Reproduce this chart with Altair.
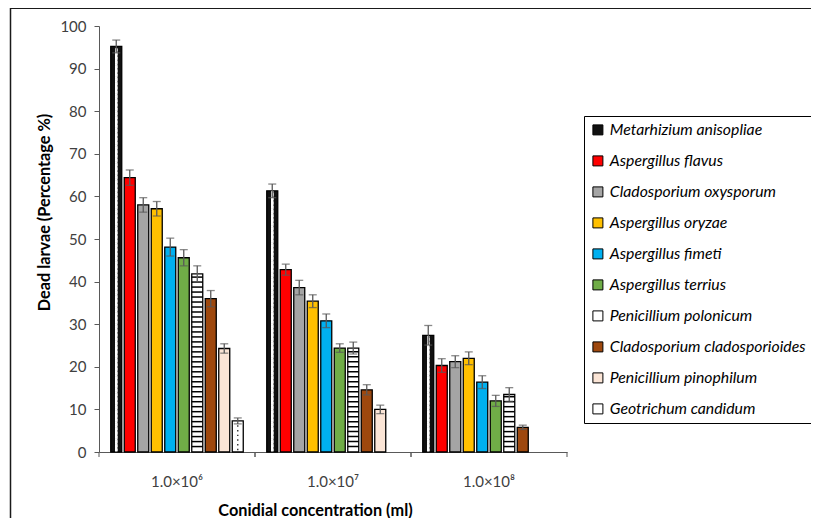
import altair as alt
import pandas as pd

concentrations = ["1.0×10⁶", "1.0×10⁷", "1.0×10⁸"]
species = [
    "Metarhizium anisopliae", "Aspergillus flavus", "Cladosporium oxysporum",
    "Aspergillus oryzae", "Aspergillus fimeti", "Aspergillus terrius",
    "Penicillium polonicum", "Cladosporium cladosporioides",
    "Penicillium pinophilum", "Geotrichum candidum",
]
colors = ["#111111", "#FF0000", "#A5A5A5", "#FFC000", "#00B0F0", "#70AD47",
          "#FFFFFF", "#9E480E", "#FBE5D6", "#FFFFFF"]

mortality_1e6 = [95.2, 64.4, 58.0, 57.1, 48.1, 45.6, 41.8, 36.0, 24.3, 7.3]
mortality_1e7 = [61.3, 42.8, 38.6, 35.4, 30.8, 24.4, 24.4, 14.6, 10.0, None]
mortality_1e8 = [27.4, 20.3, 21.2, 22.0, 16.4, 12.0, 13.5, 5.8, None, None]
sd_1e6 = [1.5, 1.8, 1.7, 1.7, 2.1, 1.9, 1.9, 1.9, 1.1, 0.7]
sd_1e7 = [1.6, 1.3, 1.7, 1.5, 1.6, 1.0, 1.4, 1.2, 1.0, None]
sd_1e8 = [2.3, 1.6, 1.4, 1.5, 1.5, 1.3, 1.6, 0.5, None, None]

rows = []
for conc, vals, sds in zip(concentrations,
                           [mortality_1e6, mortality_1e7, mortality_1e8],
                           [sd_1e6, sd_1e7, sd_1e8]):
    for sp, v, s in zip(species, vals, sds):
        if v is not None:
            rows.append({"conc": conc, "species": sp, "value": v,
                         "lo": v - s, "hi": v + s})
df = pd.DataFrame(rows)

FONT = "Lato"

x_enc = alt.X("conc:N", sort=concentrations,
              scale=alt.Scale(domain=concentrations, paddingInner=0, paddingOuter=0),
              axis=alt.Axis(title="Conidial concentration (ml)", labelAngle=0,
                            ticks=False, labelPadding=22, labelFontSize=15,
                            labelFont=FONT, labelColor="#404040",
                            domainColor="#595959", domainWidth=1,
                            titleFont=FONT, titleFontSize=16.3, titleFontWeight="bold",
                            titleColor="black", titleX=216, titleY=50,
                            titleBaseline="top"))
xo_enc = alt.XOffset("species:N", sort=species,
                     scale=alt.Scale(domain=species, paddingInner=0.185, paddingOuter=0.87))
y_scale = alt.Scale(domain=[0, 100], nice=False)
X_ = alt.X("conc:N", sort=concentrations)
XO_ = alt.XOffset("species:N", sort=species)

base = alt.Chart(df)

bars = base.mark_bar(stroke="black", strokeWidth=1.3).encode(
    x=x_enc, xOffset=xo_enc,
    y=alt.Y("value:Q", scale=y_scale,
            axis=alt.Axis(title="Dead larvae (Percentage %)", values=list(range(0, 101, 10)),
                          grid=False, tickSize=5, tickColor="#595959",
                          domainColor="#595959", labelPadding=8, labelFontSize=15,
                          labelFont=FONT, labelColor="#404040",
                          titleFont=FONT, titleFontSize=16.3, titleFontWeight="bold",
                          titleColor="black", titleX=-55, titleY=186,
                          titleBaseline="middle", titleAngle=-90)),
    color=alt.Color("species:N", scale=alt.Scale(domain=species, range=colors),
                    legend=alt.Legend(title=None, orient="none", legendX=485, legendY=90,
                                      strokeColor="black", padding=6, rowPadding=14.0,
                                      labelFont=FONT, labelFontSize=15.8,
                                      labelFontStyle="italic", labelColor="black",
                                      labelLimit=400, labelOffset=4,
                                      symbolType="square", symbolSize=100,
                                      symbolStrokeColor="black", symbolStrokeWidth=1,
                                      fillColor="white")),
)

# hatch patterns drawn from the bar values
stripes = base.transform_filter(
    alt.datum.species == "Penicillium polonicum"
).transform_calculate(
    s="sequence(1.1, datum.value - 0.5, 1.17)"
).transform_flatten(["s"]).transform_calculate(
    s2="datum.s + 0.35"
).mark_bar(color="black").encode(
    x=X_, xOffset=XO_, y=alt.Y("s:Q", scale=y_scale), y2="s2:Q",
)

STEP = 0.5
checker_src = base.transform_filter(
    alt.datum.species == "Metarhizium anisopliae"
).transform_calculate(
    s=f"sequence(0.45, datum.value - 0.3, {STEP})"
).transform_flatten(["s"]).transform_calculate(
    parity=f"round((datum.s - 0.45) / {STEP}) % 2"
)
checker_layers = []
for par, dxs in [(0, [-2.5, 2.5]), (1, [0])]:
    for d in dxs:
        checker_layers.append(
            checker_src.transform_filter(alt.datum.parity == par).mark_square(
                color="white", size=6, opacity=1, dx=d).encode(
                x=X_, xOffset=XO_, y=alt.Y("s:Q", scale=y_scale)))

dots_src = base.transform_filter(
    alt.datum.species == "Geotrichum candidum"
).transform_calculate(
    s="sequence(0.6, datum.value - 0.3, 1.1)"
).transform_flatten(["s"]).transform_calculate(
    parity="round((datum.s - 0.6) / 1.1) % 2"
)
dots_a = dots_src.transform_filter(alt.datum.parity == 0).mark_square(
    color="#333333", size=2, opacity=1, dx=-1.5).encode(
    x=X_, xOffset=XO_, y=alt.Y("s:Q", scale=y_scale))
dots_b = dots_src.transform_filter(alt.datum.parity == 1).mark_square(
    color="#333333", size=2, opacity=1, dx=1.5).encode(
    x=X_, xOffset=XO_, y=alt.Y("s:Q", scale=y_scale))

err_rule = base.mark_rule(color="#595959", strokeWidth=1.3).encode(
    x=X_, xOffset=XO_, y=alt.Y("lo:Q", scale=y_scale), y2="hi:Q")
err_top = base.mark_tick(color="#595959", thickness=1.3, size=8).encode(
    x=X_, xOffset=XO_, y=alt.Y("hi:Q", scale=y_scale))
err_bot = base.mark_tick(color="#595959", thickness=1.3, size=8).encode(
    x=X_, xOffset=XO_, y=alt.Y("lo:Q", scale=y_scale))

cat_df = pd.DataFrame({"conc": concentrations})
tick_start = alt.Chart(cat_df).mark_rule(color="#595959", strokeWidth=1).encode(
    x=alt.X("conc:N", sort=concentrations, bandPosition=0),
    y=alt.value(426), y2=alt.value(431))
tick_end = alt.Chart(cat_df).mark_rule(color="#595959", strokeWidth=1).encode(
    x=alt.X("conc:N", sort=concentrations, bandPosition=1),
    y=alt.value(426), y2=alt.value(431))

frame_df = pd.DataFrame({"k": [0]})
frame_v = alt.Chart(frame_df).mark_rule(color="#1a1a1a", strokeWidth=1.5).encode(
    x=alt.value(-88.5), y=alt.value(-18), y2=alt.value(600))
frame_h = alt.Chart(frame_df).mark_rule(color="#1a1a1a", strokeWidth=2).encode(
    x=alt.value(-89), x2=alt.value(712), y=alt.value(-18))

chart = alt.layer(
    bars, stripes, *checker_layers, dots_a, dots_b,
    err_rule, err_top, err_bot, tick_start, tick_end, frame_v, frame_h,
).properties(
    width=468, height=426,
    padding={"left": 91, "top": 18, "right": 244, "bottom": 66},
    autosize=alt.AutoSizeParams(type="none"),
).configure(background="white").configure_view(stroke=None)

chart.save("out.html", embed_options={"renderer": "svg", "actions": False})
